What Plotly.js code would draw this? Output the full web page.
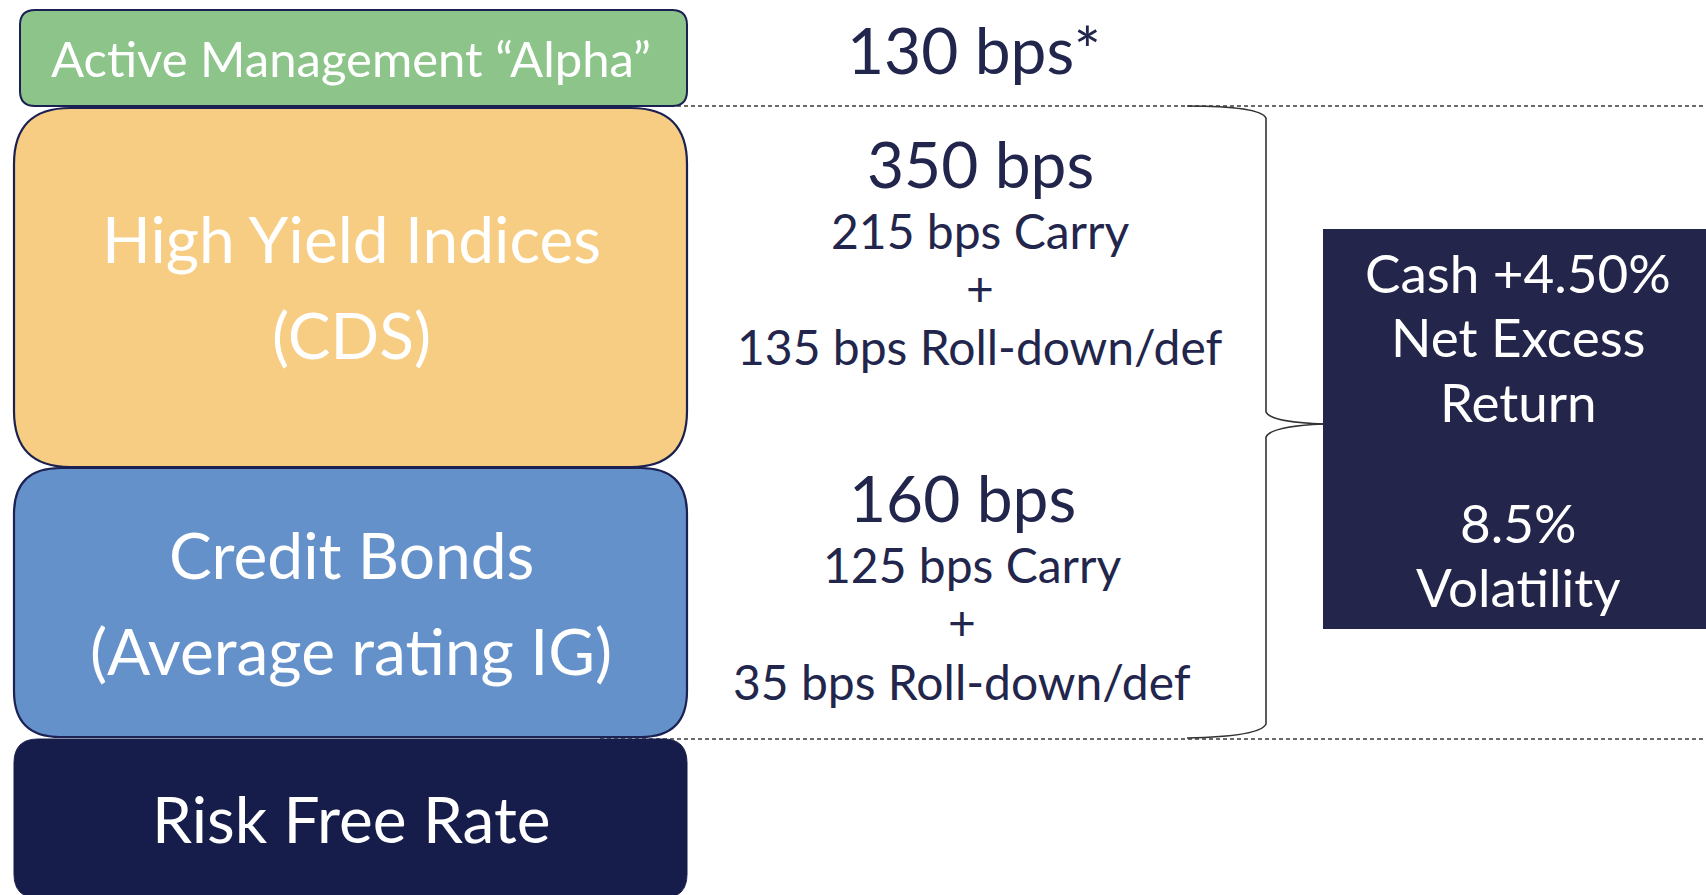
<!DOCTYPE html>
<html>
<head>
<meta charset="utf-8">
<script src="https://cdn.plot.ly/plotly-3.0.1.min.js"></script>
<style>
  html, body { margin: 0; padding: 0; background: #ffffff; }
  #chart { width: 1706px; height: 895px; }
</style>
</head>
<body>
<div id="chart"></div>
<script>
// ---------- DATA ----------
const layerNames = [
  ["Active Management \u201CAlpha\u201D"],
  ["High Yield Indices", "(CDS)"],
  ["Credit Bonds", "(Average rating IG)"],
  ["Risk Free Rate"]
];
const totalBps = [130, 350, 160];          // alpha, HY indices, credit bonds
const carryBps = [null, 215, 125];
const rollDownBps = [null, 135, 35];
const cashPlus = "4.50%";
const volatility = "8.5%";
const outcomeLabels = ["Cash +" + cashPlus, "Net Excess", "Return", volatility, "Volatility"];

// ---------- LAYOUT GEOMETRY (pixels in a 1706 x 895 frame) ----------
const W = 1706, H = 895;
const boxX0 = 14, boxX1 = 687;
const boxes = [
  {x0: 20, x1: 687, y0: 10, y1: 106, r: 15, fill: "#8cc48a", line: "#1b2152", lw: 2},
  {x0: boxX0, x1: boxX1, y0: 108, y1: 467, r: 56, fill: "#f7cd84", line: "#1b2152", lw: 2.2},
  {x0: boxX0, x1: boxX1, y0: 468, y1: 737, r: 46, fill: "#6591ca", line: "#1b2152", lw: 2.2},
  {x0: boxX0, x1: boxX1, y0: 739, y1: 898, r: 24, fill: "#161d4a", line: "#161d4a", lw: 1}
];
const labelY = [[58], [238, 334], [554, 650], [818]];
const labelSize = [49, 64, 64, 64];
const labelX = 351;

const midTextColor = "#23264c";

function roundRectPath(b) {
  const r = b.r;
  return `M ${b.x0 + r} ${b.y0} L ${b.x1 - r} ${b.y0} Q ${b.x1} ${b.y0} ${b.x1} ${b.y0 + r} ` +
         `L ${b.x1} ${b.y1 - r} Q ${b.x1} ${b.y1} ${b.x1 - r} ${b.y1} ` +
         `L ${b.x0 + r} ${b.y1} Q ${b.x0} ${b.y1} ${b.x0} ${b.y1 - r} ` +
         `L ${b.x0} ${b.y0 + r} Q ${b.x0} ${b.y0} ${b.x0 + r} ${b.y0} Z`;
}

const shapes = [];
// dashed guide lines (behind boxes)
[106, 739].forEach(y => shapes.push({
  type: "line", xref: "x", yref: "y", x0: 600, x1: W, y0: y, y1: y,
  line: {color: "#3a3a3a", width: 1.6, dash: "4px,3px"}, layer: "below"
}));
// stacked rounded boxes
boxes.forEach(b => shapes.push({
  type: "path", xref: "x", yref: "y", path: roundRectPath(b),
  fillcolor: b.fill, line: {color: b.line, width: b.lw}, layer: "above"
}));
// braces
shapes.push({
  type: "path", xref: "x", yref: "y",
  path: "M 1187 106 C 1235 106, 1262 110, 1266 118 L 1266 412 C 1270 421, 1300 423, 1323 424",
  line: {color: "#333333", width: 1.6}
});
shapes.push({
  type: "path", xref: "x", yref: "y",
  path: "M 1323 424 C 1300 425, 1270 428, 1266 437 L 1266 724 C 1262 733, 1235 737, 1187 738",
  line: {color: "#333333", width: 1.6}
});
// outcome box
shapes.push({
  type: "rect", xref: "x", yref: "y", x0: 1323, x1: W + 5, y0: 229, y1: 629,
  fillcolor: "#23254a", line: {width: 0}
});

const annotations = [];
function addText(text, x, y, size, color) {
  annotations.push({
    text: text, x: x, y: y, xref: "x", yref: "y", showarrow: false,
    xanchor: "center", yanchor: "middle",
    font: {family: "Lato, 'Open Sans', sans-serif", size: size, color: color}
  });
}
// box labels
layerNames.forEach((lines, i) => {
  lines.forEach((t, j) => addText(t, labelX, labelY[i][j], labelSize[i], "#ffffff"));
});
// middle column
addText(totalBps[0] + " bps*", 974, 49, 64, midTextColor);
const groupX = [null, 980, 962];
const groupY = [null, [163, 230, 287, 346], [497, 564, 621, 681]];
[1, 2].forEach(i => {
  addText(totalBps[i] + " bps", groupX[i], groupY[i][0], 64, midTextColor);
  addText(carryBps[i] + " bps Carry", groupX[i] + (i === 2 ? 10 : 0), groupY[i][1], 48, midTextColor);
  addText("+", groupX[i], groupY[i][2], 48, midTextColor);
  addText(rollDownBps[i] + " bps Roll-down/def", groupX[i], groupY[i][3], 48, midTextColor);
});
// outcome box text
const outY = [272, 336, 401, 522, 586];
outcomeLabels.forEach((t, i) => addText(t, 1518, outY[i], 53, "#ffffff"));

const data = [{
  type: "scatter", mode: "markers", x: [0, W], y: [0, H],
  marker: {opacity: 0}, hoverinfo: "skip", showlegend: false
}];

const layout = {
  width: W, height: H,
  margin: {l: 0, r: 0, t: 0, b: 0, pad: 0},
  paper_bgcolor: "#ffffff", plot_bgcolor: "#ffffff",
  xaxis: {range: [0, W], visible: false, fixedrange: true},
  yaxis: {range: [H, 0], visible: false, fixedrange: true},
  shapes: shapes, annotations: annotations, showlegend: false
};

Plotly.newPlot("chart", data, layout, {displayModeBar: false, staticPlot: true});
</script>
</body>
</html>
